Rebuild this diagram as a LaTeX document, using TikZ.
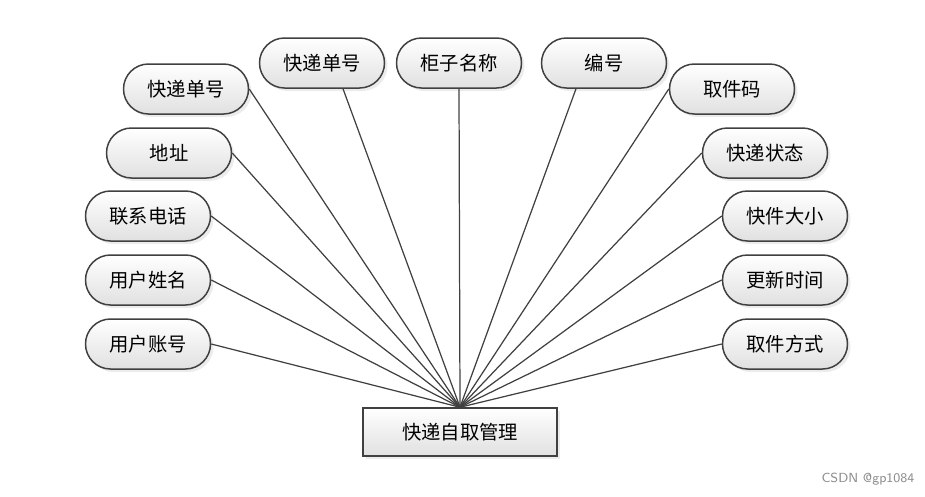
\documentclass[tikz,border=0pt]{standalone}
\usepackage{fontspec}
\newfontfamily\cjk{Noto Sans CJK SC}
\usepackage{xcolor}
\usepackage{tikz}
\usetikzlibrary{shadows,arrows,shapes,positioning}
\tikzset{every shadow/.style={}}
\definecolor{linegray}{HTML}{404040}

\begin{document}
\begin{tikzpicture}[thick,
    attr/.style={draw=linegray, line width=0.85pt, rectangle, rounded corners=0.5cm, top color=white, bottom color=black!12, drop shadow={shadow xshift=0.06cm, shadow yshift=-0.06cm, fill=black!15}, minimum width=2.5cm, minimum height=1.0cm, align=center, font=\cjk\fontsize{11}{13}\selectfont},
    entity/.style={draw=linegray, line width=0.85pt, rectangle, top color=white, bottom color=black!12, drop shadow={shadow xshift=0.06cm, shadow yshift=-0.06cm, fill=black!15}, minimum width=3.88cm, minimum height=0.96cm, align=center, font=\cjk\fontsize{11}{13}\selectfont},
    link/.style={draw=linegray, line width=0.7pt}]
        \useasboundingbox (0,0) rectangle (18.5,-9.92);
        % Central entity
        \node[entity] (mgmt) at (9.20,-8.64) {快递自取管理};
        
        % Attributes along the top
        \node[attr] (tdh) at (6.44,-1.26) {快递单号};
        \node[attr] (gzmc) at (9.18,-1.26) {柜子名称};
        \node[attr] (bh) at (12.08,-1.26) {编号};
        
        % Attributes on the left
        \node[attr] (ldh) at (3.72,-1.78) {快递单号};
        \node[attr] (dz) at (3.38,-3.06) {地址};
        \node[attr] (lxdh) at (2.96,-4.32) {联系电话};
        \node[attr] (yhxm) at (2.96,-5.60) {用户姓名};
        \node[attr] (yhzh) at (2.96,-6.88) {用户账号};
        
        % Attributes on the right
        \node[attr] (qjm) at (14.64,-1.78) {取件码};
        \node[attr] (kdzt) at (15.30,-3.06) {快递状态};
        \node[attr] (kjdx) at (15.70,-4.32) {快件大小};
        \node[attr] (gxsj) at (15.70,-5.60) {更新时间};
        \node[attr] (qjfs) at (15.70,-6.88) {取件方式};
        
        % Connect every attribute with the entity
        \draw[link] (tdh.south) ++(0.42,0) -- (mgmt.north);
        \draw[link] (gzmc.south) -- (mgmt.north);
        \draw[link] (bh.south) ++(-0.56,0) -- (mgmt.north);
        \foreach \a in {ldh,dz,lxdh,yhxm,yhzh}
            \draw[link] (\a.east) -- (mgmt.north);
        \foreach \a in {qjm,kdzt,kjdx,gxsj,qjfs}
            \draw[link] (\a.west) -- (mgmt.north);
        
        \node[text=black!45, font=\sffamily\fontsize{7.5}{9}\selectfont] (mark) at (17.36,-9.58) {CSDN @gp1084};
    \end{tikzpicture}
\end{document}
